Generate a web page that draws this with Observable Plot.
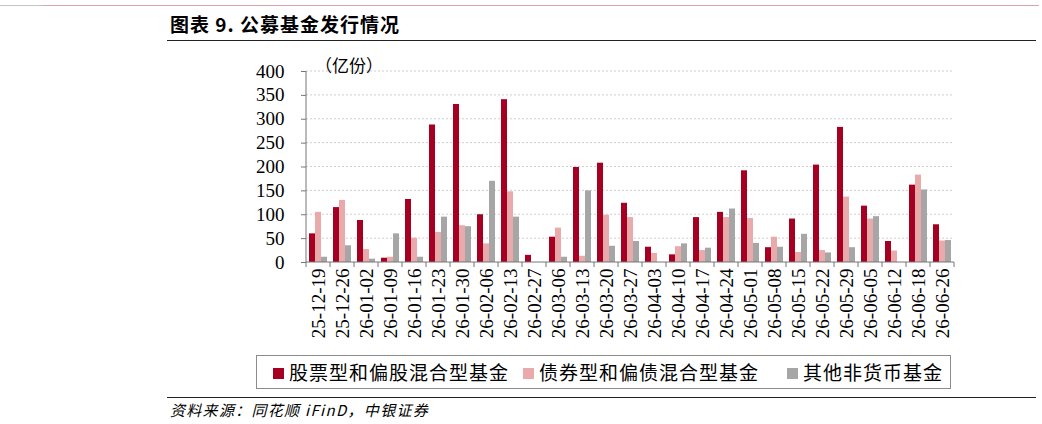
<!DOCTYPE html>
<html><head><meta charset="utf-8">
<script src="https://cdn.jsdelivr.net/npm/d3@7"></script>
<script src="https://cdn.jsdelivr.net/npm/@observablehq/plot@0.6"></script>
<style>
body{margin:0;background:#fff;}
#wrap{position:relative;width:1042px;height:424px;overflow:hidden;background:#fff;}
.abs{position:absolute;}
#title{left:170px;top:10px;font-family:"Noto Sans CJK SC",sans-serif;font-weight:700;font-size:19px;color:#000;letter-spacing:1px;white-space:nowrap;}
#unit{left:315px;top:52px;font-family:"Noto Sans CJK SC",sans-serif;font-size:17px;color:#000;white-space:nowrap;}
#legend{left:256px;top:355px;width:695px;height:34px;border:1px solid #8c8c8c;box-sizing:border-box;}
.li{position:absolute;top:4px;font-family:"Noto Sans CJK SC",sans-serif;font-size:19px;line-height:24px;color:#000;white-space:nowrap;letter-spacing:1px;}
.sw{display:inline-block;width:11px;height:11px;margin-right:5px;vertical-align:1px;}
#source{left:170px;top:399px;font-family:"Noto Sans CJK SC",sans-serif;font-style:italic;font-size:15px;letter-spacing:1.3px;color:#000;white-space:nowrap;}
#plotbox{left:0;top:0;}
</style></head><body>
<div id="wrap">
  <div class="abs" style="left:0;top:5px;width:43px;height:1px;background:#c4c4c4"></div>
  <div class="abs" style="left:43px;top:5px;width:996px;height:1px;background:#d9a3b3"></div>
  <div class="abs" id="title">图表 9. 公募基金发行情况</div>
  <div class="abs" style="left:167px;top:40px;width:869px;height:1px;background:#222"></div>
  <div class="abs" id="plotbox"></div>
  <div class="abs" id="unit">（亿份）</div>
  <div class="abs" id="legend"></div>
  <div class="abs" style="left:167px;top:397px;width:869px;height:1px;background:#222"></div>
  <div class="abs" id="source">资料来源：同花顺 iFinD，中银证券</div>
</div>
<script>
const dates = ["25-12-19","25-12-26","26-01-02","26-01-09","26-01-16","26-01-23","26-01-30","26-02-06","26-02-13","26-02-27","26-03-06","26-03-13","26-03-20","26-03-27","26-04-03","26-04-10","26-04-17","26-04-24","26-05-01","26-05-08","26-05-15","26-05-22","26-05-29","26-06-05","26-06-12","26-06-18","26-06-26"];
const equity = [60,115,88,9,132,288,331,100,341,15,53,199,208,124,32,16,94,105,192,31,91,204,283,118,44,162,79];
const bond   = [105,130,27,11,51,63,77,39,148,0,72,13,99,94,19,33,25,94,92,53,21,25,137,91,24,183,45];
const other  = [11,35,7,60,11,95,75,170,95,0,11,150,34,44,0,39,30,112,40,32,59,20,31,96,0,152,46];
const seriesNames = ["股票型和偏股混合型基金","债券型和偏债混合型基金","其他非货币基金"];
const colors = ["#A50021","#E8AAAA","#A6A6A6"];
const yTicks = [0,50,100,150,200,250,300,350,400];

const seriesValues = [equity, bond, other];
const data = dates.flatMap((d, i) => seriesValues.map((arr, j) => ({date: d, series: seriesNames[j], value: arr[i]})));

const plot = Plot.plot({
  width: 1042,
  height: 350,
  marginLeft: 306,
  marginRight: 88,
  marginTop: 71,
  marginBottom: 88,
  style: {fontFamily: "'Liberation Serif', 'Times New Roman', serif", fontSize: "19px", color: "#000", background: "transparent", overflow: "visible"},
  fx: {domain: dates, paddingInner: 0.17, paddingOuter: 0.085, label: null},
  x: {domain: seriesNames, padding: 0, axis: null},
  y: {domain: [0, 400], label: null, axis: null},
  color: {domain: seriesNames, range: colors},
  marks: [
    Plot.barY(data, {fx: "date", x: "series", y: "value", fill: "series"}),
    Plot.axisY(yTicks, {anchor: "left", tickSize: 5, tickPadding: 17, stroke: "#777", fontSize: 19, label: null, dx: -2}),
    Plot.axisFx({anchor: "bottom", tickRotate: -90, tickSize: 0, tickPadding: 6, fontSize: 19, label: null})
  ]
});
document.getElementById("plotbox").appendChild(plot);

// gridlines, baseline, axis line and category boundary ticks from the library's scales
const fx = plot.scale("fx");
const ys = plot.scale("y");
const [xl, xr] = fx.range;
const y0 = ys.apply(0);
const svg = d3.select(plot);
const under = svg.insert("g", ":first-child");
under.selectAll("line").data(yTicks.slice(1)).join("line")
  .attr("x1", xl).attr("x2", xr)
  .attr("y1", d => ys.apply(d)).attr("y2", d => ys.apply(d))
  .attr("stroke", "#cfcfcf").attr("stroke-dasharray", "2,2");
const styleEl = plot.querySelector("style");
if (styleEl) styleEl.after(under.node());

const gap = fx.step - fx.bandwidth;
const bounds = dates.map(d => fx.apply(d) - gap / 2);
bounds.push(fx.apply(dates[dates.length - 1]) + fx.bandwidth + gap / 2);
const over = svg.append("g").attr("stroke", "#777");
over.append("line").attr("x1", xl).attr("x2", xr).attr("y1", y0).attr("y2", y0);
over.append("line").attr("x1", xl).attr("x2", xl).attr("y1", ys.apply(400)).attr("y2", y0);
over.selectAll("line.b").data(bounds).join("line").attr("class", "b")
  .attr("x1", d => d).attr("x2", d => d)
  .attr("y1", y0).attr("y2", y0 + 5);

// legend
const legendPos = [16, 266, 530];
const leg = d3.select("#legend");
seriesNames.forEach((s, i) => {
  const item = leg.append("div").attr("class", "li").style("left", legendPos[i] + "px");
  item.append("span").attr("class", "sw").style("background", colors[i]);
  item.append("span").text(s);
});
</script>
</body></html>
